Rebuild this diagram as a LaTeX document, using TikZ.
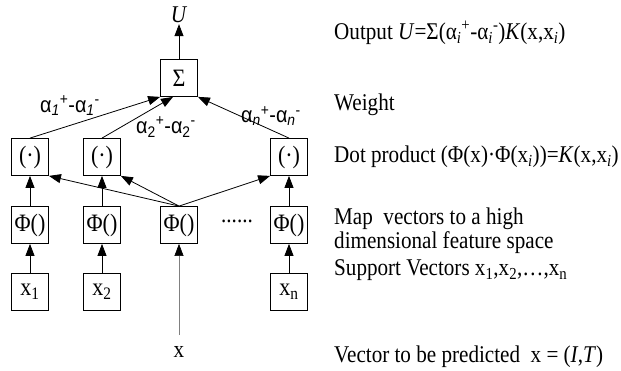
\documentclass[tikz,border=0pt]{standalone}
\usepackage{fontspec}
\setmainfont{Liberation Serif}[FakeStretch=0.88]
\newfontfamily\alphafont{Liberation Sans}[FakeStretch=0.9]
\usepackage{tikz}
\usetikzlibrary{arrows.meta}

\newcommand{\lo}[1]{\textsubscript{#1}}
\newcommand{\hi}[1]{\textsuperscript{#1}}

\begin{document}
\begin{tikzpicture}[x=1pt, y=-1pt,
  unit/.style={draw, line width=0.8pt, minimum width=37pt, minimum height=37pt,
               inner sep=0pt, font=\fontsize{25}{25}\selectfont},
  arrow/.style={-{Triangle[length=12pt,width=9pt,color=black]}, line width=0.8pt},
  weight/.style={font=\alphafont\fontsize{22}{24}\selectfont, inner sep=1pt},
  term/.style={font=\fontsize{24}{24}\selectfont, inner sep=1pt},
  note/.style={anchor=west, align=left, inner sep=0pt, font=\fontsize{24}{24}\selectfont}
]
  \useasboundingbox (0,0) rectangle (621,371);

  % output
  \node[term] (U) at (179,15) {\textit{U}};
  \node[unit] (sum) at (179,78) {Σ};

  % dot products
  \node[unit] (D1) at (30,157)  {(·)};
  \node[unit] (D2) at (102,157) {(·)};
  \node[unit] (D4) at (289,157) {(·)};

  % mapping
  \node[unit] (P1) at (30,225)  {Φ()};
  \node[unit] (P2) at (102,225) {Φ()};
  \node[unit] (P3) at (179,225) {Φ()};
  \node[unit] (P4) at (289,225) {Φ()};
  \node[term] (dots) at (237,221) {......};

  % support vectors
  \node[unit] (X1) at (30,292)  {x\lo{1}};
  \node[unit] (X2) at (102,292) {x\lo{2}};
  \node[unit] (X4) at (289,292) {x\lo{n}};

  \node[term] (x) at (179,352) {x};
  \coordinate (xtop) at (179,335);

  \draw[arrow] (sum) -- (U.south);
  \draw[arrow] (D1.north) -- (sum.south west);
  \draw[arrow] (D2.north) -- ([xshift=-6pt]sum.south);
  \draw[arrow] (D4.north) -- (sum.south east);

  \draw[arrow] (P1) -- (D1);
  \draw[arrow] (P2) -- (D2);
  \draw[arrow] (P4) -- (D4);
  \draw[arrow] (P3.north) -- (D1.south east);
  \draw[arrow] (P3.north) -- (D2.south east);
  \draw[arrow] (P3.north) -- (D4.south west);

  \draw[arrow] (X1) -- (P1);
  \draw[arrow] (X2) -- (P2);
  \draw[arrow] (X4) -- (P4);
  \draw[arrow, draw=gray, line width=0.6pt] (xtop) -- (P3);

  \node[weight] (w1) at (70,106)  {α\lo{\textit{1}}\hi{+}-α\lo{\textit{1}}\hi{-}};
  \node[weight] (w2) at (166,127) {α\lo{2}\hi{+}-α\lo{2}\hi{-}};
  \node[weight] (wn) at (271,116) {α\lo{\textit{n}}\hi{+}-α\lo{\textit{n}}\hi{-}};

  \node[note] (n1) at (334,33)  {Output \textit{U}=Σ(α\lo{\textit{i}}\hi{+}-α\lo{\textit{i}}\hi{-})\textit{K}(x,x\lo{\textit{i}})};
  \node[note] (n2) at (334,105) {Weight};
  \node[note] (n3) at (334,157) {Dot product (Φ(x)·Φ(x\lo{\textit{i}}))=\textit{K}(x,x\lo{\textit{i}})};
  \node[note] (n4) at (334,231) {Map~ vectors to a high\\dimensional feature space};
  \node[note] (n5) at (334,270) {Support Vectors x\lo{1},x\lo{2},…,x\lo{n}};
  \node[note] (n6) at (334,357) {Vector to be predicted~ x = (\textit{I},\textit{T})};
\end{tikzpicture}
\end{document}
